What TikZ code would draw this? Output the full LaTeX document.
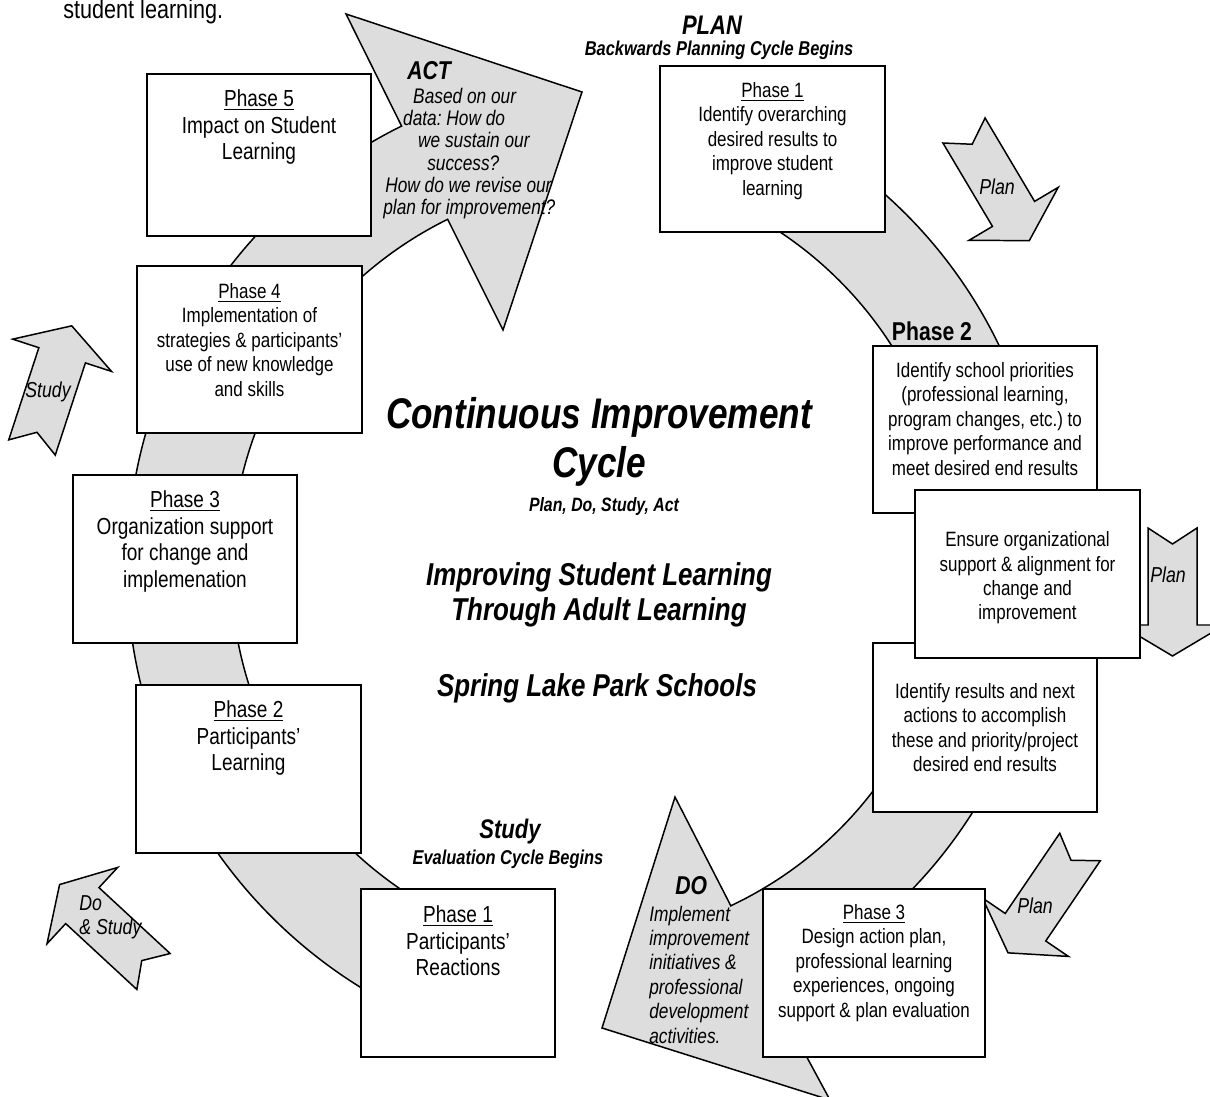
\documentclass[tikz,border=0pt]{standalone}
\usepackage{fontspec}
\setmainfont[FakeStretch=0.82]{Liberation Sans}
\definecolor{bandgrey}{HTML}{DDDDDD}
\frenchspacing

\tikzset{
  greyshape/.style={fill=bandgrey, draw=black, line width=0.85pt, line join=miter},
  phasebox/.style={draw=black, fill=white, line width=1.1pt, inner sep=0pt},
  smalltext/.style={font=\fontsize{11.8}{13.9}\selectfont, align=center, inner sep=0pt},
  largetext/.style={font=\fontsize{13.2}{15.3}\selectfont, align=center, inner sep=0pt},
  italtext/.style={font=\itshape\fontsize{12}{13.9}\selectfont, align=left, inner sep=0pt},
  headtext/.style={font=\bfseries\itshape\fontsize{14.7}{16}\selectfont, inner sep=0pt},
  subhead/.style={font=\bfseries\itshape\fontsize{11.4}{13}\selectfont, inner sep=0pt},
  arrowtext/.style={font=\itshape\fontsize{12.3}{13.6}\selectfont, inner sep=0pt, align=left},
  notcharrow/.pic={
    \draw[greyshape] (0,-24.5) -- (97,-24.5) -- (97,-52) -- (128,0)
      -- (97,52) -- (97,24.5) -- (0,24.5) -- (16,0) -- cycle;
  },
}

\begin{document}
\begin{tikzpicture}[x=0.02cm, y=-0.02cm]
\useasboundingbox (0,0) rectangle (1210,1097);
\clip (0,0) rectangle (1210,1097);

% closing line of the preceding paragraph
\node[font=\fontsize{15}{18}\selectfont, anchor=base west, inner sep=0pt] (intro) at (63,19) {student learning.};

% left band: evaluation cycle, ending in the ACT head
\draw[greyshape] ([shift={(620,568)}]102:493) arc[start angle=102, end angle=243.7, radius=493]
  -- (346,14) -- (582,92) -- (503,330)
  -- ([shift={(620,568)}]243.7:389) arc[start angle=243.7, end angle=102, radius=389] -- cycle;

% right band: planning cycle, ending in the DO head
\draw[greyshape] ([shift={(565,555)}]-72:482) arc[start angle=-72, end angle=64.7, radius=482]
  -- (830,1100) -- (602,1028) -- (675,797)
  -- ([shift={(565,555)}]64.7:388) arc[start angle=64.7, end angle=-72, radius=388] -- cycle;

% small notched arrows
\pic[rotate=-59.3] at (964,130.5) {notcharrow};
\pic[rotate=-90] at (1172.5,528) {notcharrow};
\pic[rotate=-124.2] at (1080,847) {notcharrow};
\pic[rotate=71.9] at (32,447.5) {notcharrow};
\pic[rotate=137.2] at (153.5,971.5) {notcharrow};

\node[arrowtext] (plana) at (997,187) {Plan};
\node[arrowtext] (planb) at (1168,575) {Plan};
\node[arrowtext] (planc) at (1035,906) {Plan};
\node[arrowtext] (studya) at (48,392) {Study};
\node[arrowtext, anchor=north west] (dostudy) at (79,895) {Do\\\& Study};

% phase boxes, evaluation side
\node[phasebox, minimum width=4.48cm, minimum height=3.24cm] (p5) at (259,155) {};
\node[phasebox, minimum width=4.5cm, minimum height=3.34cm] (p4) at (249.5,349.5) {};
\node[phasebox, minimum width=4.48cm, minimum height=3.36cm] (p3l) at (185,559) {};
\node[phasebox, minimum width=4.5cm, minimum height=3.36cm] (p2l) at (248.5,769) {};
\node[phasebox, minimum width=3.88cm, minimum height=3.36cm] (p1l) at (458,973) {};

% phase boxes, planning side
\node[phasebox, minimum width=4.5cm, minimum height=3.32cm] (r1) at (772.5,149) {};
\node[phasebox, minimum width=4.48cm, minimum height=3.34cm] (r2) at (985,429.5) {};
\node[phasebox, minimum width=4.48cm, minimum height=3.38cm] (r3) at (985,727.5) {};
\node[phasebox, minimum width=4.5cm, minimum height=3.36cm] (ens) at (1027.5,574) {};
\node[phasebox, minimum width=4.44cm, minimum height=3.36cm] (p3r) at (874,973) {};

% box texts
\node[largetext, anchor=north] (p5t) at ([yshift=-0.32cm]p5.north) {\underline{Phase 5}\\Impact on Student\\Learning};
\node[smalltext, anchor=north] (p4t) at ([yshift=-0.36cm]p4.north) {\underline{Phase 4}\\Implementation of\\strategies \& participants'\\use of new knowledge\\and skills};
\node[largetext, anchor=north] (p3lt) at ([yshift=-0.32cm]p3l.north) {\underline{Phase 3}\\Organization support\\for change and\\implemenation};
\node[largetext, anchor=north] (p2lt) at ([yshift=-0.32cm]p2l.north) {\underline{Phase 2}\\Participants'\\Learning};
\node[largetext, anchor=north] (p1lt) at ([yshift=-0.34cm]p1l.north) {\underline{Phase 1}\\Participants'\\Reactions};

\node[smalltext, anchor=north] (r1t) at ([yshift=-0.34cm]r1.north) {\underline{Phase 1}\\Identify overarching\\desired results to\\improve student\\learning};
\node[smalltext] (r2t) at ([yshift=0.21cm]r2.center) {Identify school priorities\\(professional learning,\\program changes, etc.) to\\improve performance and\\meet desired end results};
\node[smalltext] (r3t) at (r3.center) {Identify results and next\\actions to accomplish\\these and priority/project\\desired end results};
\node[smalltext] (enst) at ([yshift=-0.08cm]ens.center) {Ensure organizational\\support \& alignment for\\change and\\improvement};
\node[smalltext, anchor=north] (p3rt) at ([yshift=-0.32cm]p3r.north) {\underline{Phase 3}\\Design action plan,\\professional learning\\experiences, ongoing\\support \& plan evaluation};

% head labels
\node[headtext, anchor=west] (act) at (407,71) {ACT};
\node[italtext, anchor=north west, font=\itshape\fontsize{12}{12.7}\selectfont] (actt) at (383,87.5)
  {\hspace*{17pt}Based on our\\\hspace*{11.3pt}data: How do\\\hspace*{19.8pt}we sustain our\\\hspace*{25pt}success?\\\hspace*{1.1pt}How do we revise our\\plan for improvement?};
\node[headtext, anchor=west] (do) at (675,886) {DO};
\node[italtext, anchor=north west] (dot) at (649,905.5)
  {Implement\\improvement\\initiatives \&\\professional\\development\\activities.};

% cycle stage labels
\node[headtext, font=\bfseries\itshape\fontsize{15.3}{17}\selectfont] (plan) at (712,25) {PLAN};
\node[subhead] (plansub) at (719,50) {Backwards Planning Cycle Begins};
\node[headtext, font=\bfseries\itshape\fontsize{15.3}{17}\selectfont] (study) at (510,832) {Study};
\node[subhead] (studysub) at (508,859) {Evaluation Cycle Begins};
\node[font=\bfseries\fontsize{14.7}{16}\selectfont, inner sep=0pt] (ph2) at (932,331) {Phase 2};

% central titles
\node[font=\bfseries\itshape\fontsize{24.4}{27.8}\selectfont, align=center, inner sep=0pt] (title) at (599,442) {Continuous Improvement\\Cycle};
\node[font=\bfseries\itshape\fontsize{11}{13}\selectfont, inner sep=0pt] (pdsa) at (604,507) {Plan, Do, Study, Act};
\node[font=\bfseries\itshape\fontsize{18}{19.8}\selectfont, align=center, inner sep=0pt] (motto) at (599,595) {Improving Student Learning\\Through Adult Learning};
\node[font=\bfseries\itshape\fontsize{18}{19.8}\selectfont, inner sep=0pt] (district) at (597,688) {Spring Lake Park Schools};
\end{tikzpicture}
\end{document}
